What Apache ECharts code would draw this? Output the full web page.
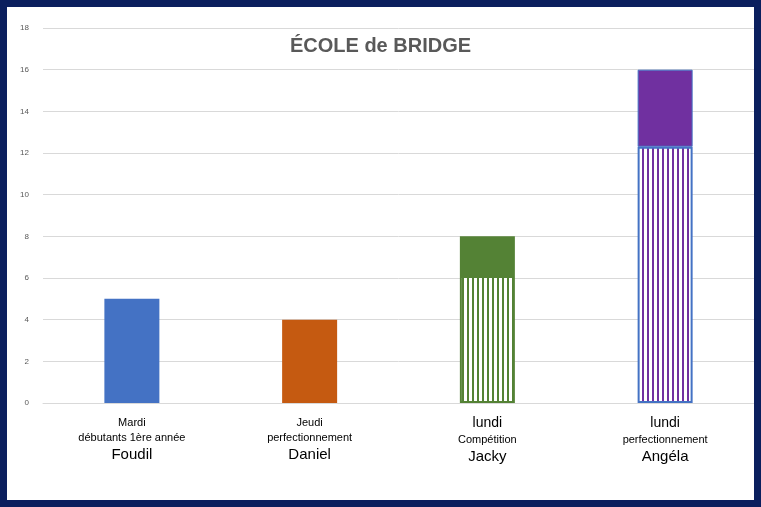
<!DOCTYPE html>
<html><head><meta charset="utf-8">
<script src="https://cdn.jsdelivr.net/npm/echarts@6/dist/echarts.min.js"></script>
<style>html,body{margin:0;padding:0;background:#0b1f5e}#c{position:absolute;left:7px;top:7px;width:747px;height:493px;background:#fff}</style>
</head><body><div id="c"></div>
<script>
const categories = ['Foudil','Daniel','Jacky','Angéla'];
const labelDay = ['Mardi','Jeudi','lundi','lundi'];
const labelGroup = ['débutants 1ère année','perfectionnement','Compétition','perfectionnement'];
const stripedValues = [null, null, 6.1, 12.3];
const solidValues = [5, 4, 1.9, 3.7];
const solidColors = ['#4472c4','#c55a11','#548235','#7030a0'];
const stripeColors = ['#4472c4','#c55a11','#548235','#7030a0'];
const yTicks = [0,2,4,6,8,10,12,14,16,18];

function stripe(color){
  const c=document.createElement('canvas');c.width=5;c.height=4;
  const g=c.getContext('2d');g.fillStyle='#fff';g.fillRect(0,0,5,4);
  g.fillStyle=color;g.fillRect(0,0,2,4);return c;
}
const chart=echarts.init(document.getElementById('c'));
chart.setOption({
  animation:false,
  title:{text:'ÉCOLE de BRIDGE',left:'center',top:24,textStyle:{fontFamily:'Liberation Sans',fontSize:20,fontWeight:'bold',color:'#595959'}},
  grid:{left:36,right:-6,top:21,bottom:97},
  xAxis:{type:'category',data:categories,axisTick:{show:false},axisLine:{lineStyle:{color:'#d9d9d9'}},
    axisLabel:{interval:0,margin:12,fontFamily:'Liberation Sans',
      formatter:(v,i)=>{const big=labelDay[i]==='lundi';return (big?'{b|':'{s|')+labelDay[i]+'}\n{s|'+labelGroup[i]+'}\n{n|'+v+'}';},
      rich:{s:{fontSize:11,color:'#000',lineHeight:15,fontFamily:'Liberation Sans'},b:{fontSize:14,color:'#000',lineHeight:17,fontFamily:'Liberation Sans'},n:{fontSize:15,color:'#000',lineHeight:20,fontFamily:'Liberation Sans'}}}},
  yAxis:{type:'value',min:0,max:18,interval:2,axisLabel:{fontSize:8,color:'#595959',margin:14,fontFamily:'Liberation Sans'},
    splitLine:{lineStyle:{color:'#d9d9d9'}}},
  series:[
    {type:'bar',stack:'a',barWidth:55,data:stripedValues.map((v,i)=>({value:v,itemStyle:{color:{image:stripe(stripeColors[i]),repeat:'repeat'},borderColor:i===3?'#4472c4':stripeColors[i],borderWidth:2}}))},
    {type:'bar',stack:'a',barWidth:55,data:solidValues.map((v,i)=>({value:v,itemStyle:{color:solidColors[i],borderColor:i===3?'#4472c4':solidColors[i],borderWidth:i===3?1:0}}))}
  ]
});
</script></body></html>
